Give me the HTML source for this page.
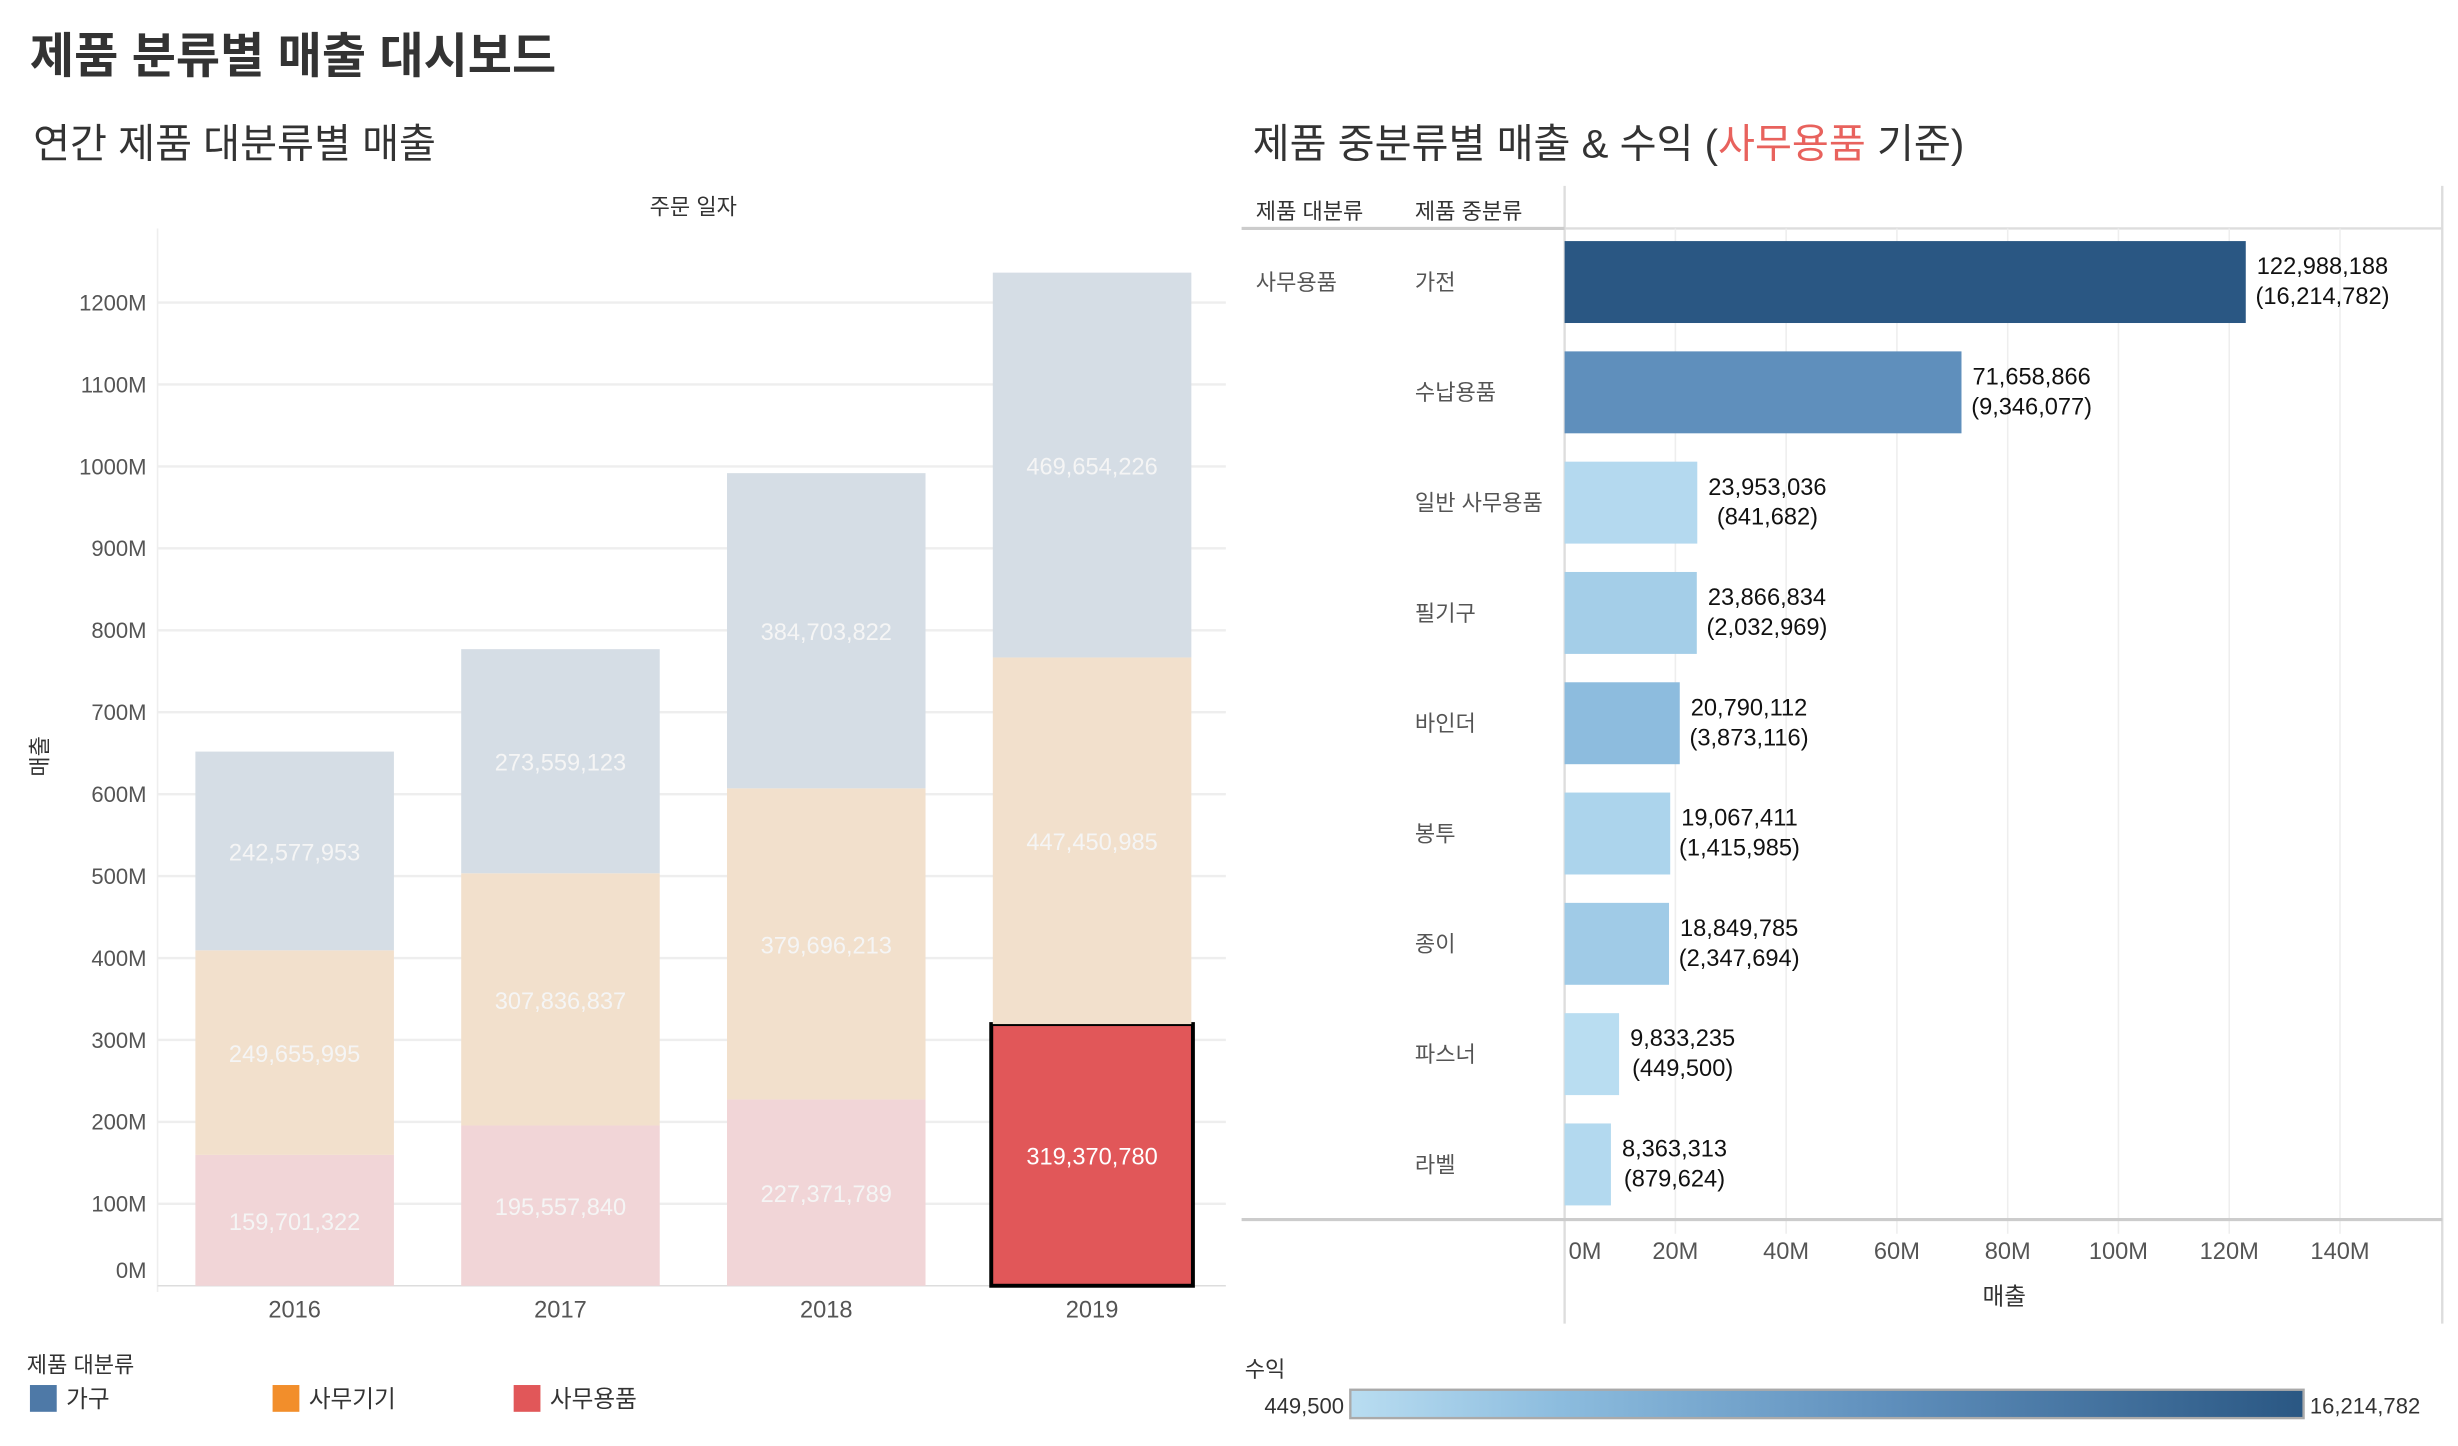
<!DOCTYPE html>
<html><head><meta charset="utf-8">
<style>
html,body{margin:0;padding:0;background:#fff;}
svg{display:block;font-family:"Liberation Sans","Noto Sans CJK KR",sans-serif;}
</style></head>
<body>
<svg id="root" width="2458" height="1446" viewBox="0 0 1560 917.7" preserveAspectRatio="none" xmlns="http://www.w3.org/2000/svg">
<text x="19" y="46" font-size="30.5" font-weight="bold" fill="#333">제품 분류별 매출 대시보드</text>
<text x="21" y="100" font-size="25.5" fill="#333">연간 제품 대분류별 매출</text>
<text x="440" y="136" font-size="14" fill="#333" text-anchor="middle">주문 일자</text>
<text transform="translate(30,480) rotate(-90)" font-size="14" fill="#333" text-anchor="middle">매출</text>
<g id="left"></g>
<text x="795" y="100" font-size="25.5" fill="#333">제품 중분류별 매출 &amp; 수익 (<tspan fill="#e8625d">사무용품</tspan> 기준)</text>
<text x="797" y="139" font-size="14" fill="#333">제품 대분류</text>
<text x="898" y="139" font-size="14" fill="#333">제품 중분류</text>
<g id="right"></g>
<text x="17" y="871" font-size="14" fill="#333">제품 대분류</text>
<g id="legend"></g>
<text x="790" y="874" font-size="14" fill="#333">수익</text>
<defs><linearGradient id="pg" x1="0" x2="1">
<stop offset="0" stop-color="#b9ddf1"/><stop offset="0.22" stop-color="#8cbcde"/><stop offset="0.565" stop-color="#5f8fbc"/><stop offset="1" stop-color="#2a5783"/></linearGradient></defs>
<text x="853" y="897" font-size="14" fill="#333" text-anchor="end">449,500</text>
<rect x="857" y="882" width="605" height="18" fill="url(#pg)" stroke="#aaa" stroke-width="1.5"/>
<text x="1466" y="897" font-size="14" fill="#333">16,214,782</text>
</svg>
<script>
const years = ["2016","2017","2018","2019"];
const officeSupplies = [159701322,195557840,227371789,319370780];
const officeMachines = [249655995,307836837,379696213,447450985];
const furniture = [242577953,273559123,384703822,469654226];
const yTicks = [0,100,200,300,400,500,600,700,800,900,1000,1100,1200];

const subCats = ["가전","수납용품","일반 사무용품","필기구","바인더","봉투","종이","파스너","라벨"];
const subSales = [122988188,71658866,23953036,23866834,20790112,19067411,18849785,9833235,8363313];
const subProfit = [16214782,9346077,841682,2032969,3873116,1415985,2347694,449500,879624];
const xTicks = [0,20,40,60,80,100,120,140];

const NS="http://www.w3.org/2000/svg";
function mk(parent,tag,attrs,text){const e=document.createElementNS(NS,tag);for(const k in attrs)e.setAttribute(k,attrs[k]);if(text!==undefined)e.textContent=text;parent.appendChild(e);return e;}
const fmt=v=>v.toLocaleString('en-US');

// left chart
const L=document.getElementById('left');
const y0=816, kY=0.52/1e6;
const yS=v=>y0-v*kY;
const xC=i=>187+i*168.7;
mk(L,'line',{x1:100,y1:145,x2:100,y2:820,stroke:'#eee'});
yTicks.forEach(t=>{
  const y=yS(t*1e6);
  if(t>0){const g=mk(L,'line',{x1:100,y1:y,x2:778,y2:y,stroke:'#eee','stroke-width':1.5});
  
  }
  const tx=mk(L,'text',{x:93,y:(t===0?y-5:y+5),'font-size':14,fill:'#555','text-anchor':'end'},t+'M');
  
  
});
mk(L,'line',{x1:100,y1:816,x2:778,y2:816,stroke:'#ddd'});
const series=[{v:officeSupplies,c:'#f1d5d7',n:'office-supplies'},{v:officeMachines,c:'#f2e0cc',n:'office-machines'},{v:furniture,c:'#d5dde5',n:'furniture'}];
years.forEach((yr,i)=>{
  let base=0;
  series.forEach((s,si)=>{
    const v=s.v[i];const top=base+v;
    const hl=(si===0&&i===3);
    const r=mk(L,'rect',{x:xC(i)-63,y:yS(top),width:126,height:yS(base)-yS(top),fill:hl?'#e15759':s.c});
    if(hl){r.setAttribute('stroke','#000');r.setAttribute('stroke-width','2.5');r.setAttribute('x',xC(i)-64);r.setAttribute('width',128);}
    
    
    const t=mk(L,'text',{x:xC(i),y:(yS(base)+yS(top))/2+6,'font-size':15,fill:hl?'#fff':'#f5f5f5','text-anchor':'middle'},fmt(v));
    
    
    base=top;
  });
  const xl=mk(L,'text',{x:xC(i),y:836,'font-size':15,fill:'#555','text-anchor':'middle'},yr);
  
  
});

// right chart
const R=document.getElementById('right');
const x0=993, kX=70.3/20e6;
const xS=v=>x0+v*kX;
mk(R,'line',{x1:993,y1:118,x2:993,y2:840,stroke:'#ddd','stroke-width':1.5});
mk(R,'line',{x1:1550,y1:118,x2:1550,y2:840,stroke:'#ddd','stroke-width':1.5});
mk(R,'line',{x1:788,y1:145,x2:993,y2:145,stroke:'#ccc','stroke-width':2});
mk(R,'line',{x1:993,y1:145,x2:1550,y2:145,stroke:'#ddd','stroke-width':1.5});
xTicks.forEach(t=>{
  const x=xS(t*1e6);
  if(t>0){const g=mk(R,'line',{x1:x,y1:145,x2:x,y2:783,stroke:'#eee','stroke-width':1});
  
  }
  const tx=mk(R,'text',{x:(t===0?x+13:x),y:799,'font-size':15,fill:'#555','text-anchor':'middle'},t+'M');
  
  
});
mk(R,'line',{x1:788,y1:774,x2:1550,y2:774,stroke:'#ccc','stroke-width':2});
const at=mk(R,'text',{x:1272,y:828,'font-size':15,fill:'#333','text-anchor':'middle'},'매출');


const mc=mk(R,'text',{x:797,y:184,'font-size':14,fill:'#555'},'사무용품');


const pMin=Math.min(...subProfit),pMax=Math.max(...subProfit);
const stops=[[0,[0xb9,0xdd,0xf1]],[0.22,[0x8c,0xbc,0xde]],[0.565,[0x5f,0x8f,0xbc]],[1,[0x2a,0x57,0x83]]];
function col(p){const t=(p-pMin)/(pMax-pMin);for(let i=1;i<stops.length;i++){if(t<=stops[i][0]){const a=stops[i-1],b=stops[i];const f=(t-a[0])/(b[0]-a[0]);return 'rgb('+a[1].map((c,j)=>Math.round(c+(b[1][j]-c)*f)).join(',')+')';}}return 'rgb(42,87,131)';}
subCats.forEach((c,i)=>{
  const cy=179+i*70;
  const l=mk(R,'text',{x:898,y:cy+5,'font-size':14,fill:'#555'},c);
  
  
  const b=mk(R,'rect',{x:x0,y:cy-26,width:xS(subSales[i])-x0,height:52,fill:col(subProfit[i])});
  
  
  const t=mk(R,'text',{x:xS(subSales[i])+7,y:cy-5,'font-size':15,fill:'#111'},fmt(subSales[i]));
  
  
  const w=t.getComputedTextLength();
  const t2=mk(R,'text',{x:xS(subSales[i])+7+w/2,y:cy+14,'font-size':15,fill:'#111','text-anchor':'middle'},'('+fmt(subProfit[i])+')');
  
  
});

// legend
const G=document.getElementById('legend');
[['가구','#4e79a7',19],['사무기기','#f28e2b',173],['사무용품','#e15759',326]].forEach(d=>{
  const r=mk(G,'rect',{x:d[2],y:879,width:17,height:17,fill:d[1]});
  
  
  const t=mk(G,'text',{x:d[2]+23,y:893,'font-size':15,fill:'#333'},d[0]);
  
  
});
</script>
</body></html>
